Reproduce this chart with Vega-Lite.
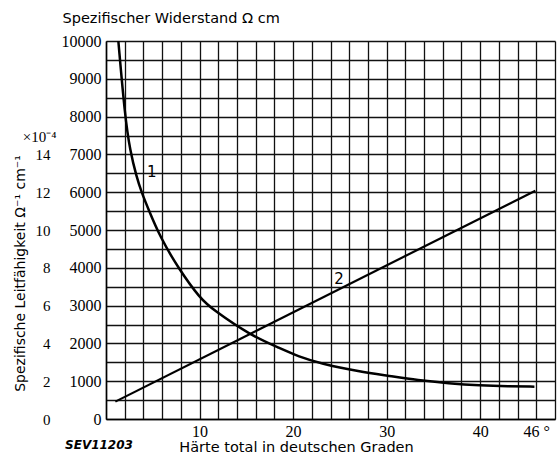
{
  "$schema": "https://vega.github.io/schema/vega-lite/v6.json",
  "width": 449,
  "height": 378,
  "autosize": {"type": "none"},
  "padding": {"left": 106, "top": 41, "right": 4, "bottom": 37},
  "background": "white",
  "config": {
    "view": {"stroke": null},
    "axis": {
      "ticks": false,
      "labelColor": "black",
      "titleColor": "black",
      "domainColor": "black",
      "domainWidth": 1.5,
      "gridColor": "#111111",
      "gridOpacity": 1,
      "gridWidth": 1.3,
      "labelOverlap": false,
      "labelFlush": false
    }
  },
  "layer": [
    {
      "layer": [
        {
          "data": {
            "values": [
              {"haerte": 1.32, "widerstand": 10000},
              {"haerte": 2.03, "widerstand": 8000},
              {"haerte": 2.57, "widerstand": 7100},
              {"haerte": 3.27, "widerstand": 6400},
              {"haerte": 3.8, "widerstand": 6000},
              {"haerte": 4.5, "widerstand": 5570},
              {"haerte": 5.77, "widerstand": 4820},
              {"haerte": 7.73, "widerstand": 3990},
              {"haerte": 10.05, "widerstand": 3190},
              {"haerte": 11.5, "widerstand": 2880},
              {"haerte": 15.4, "widerstand": 2220},
              {"haerte": 18.6, "widerstand": 1870},
              {"haerte": 20.6, "widerstand": 1650},
              {"haerte": 22.9, "widerstand": 1470},
              {"haerte": 27.2, "widerstand": 1250},
              {"haerte": 30, "widerstand": 1150},
              {"haerte": 33.4, "widerstand": 1020},
              {"haerte": 36.6, "widerstand": 945},
              {"haerte": 40, "widerstand": 890},
              {"haerte": 43, "widerstand": 865},
              {"haerte": 45.8, "widerstand": 855}
            ]
          },
          "mark": {"type": "line", "color": "black", "strokeWidth": 2.5, "interpolate": "basis"},
          "encoding": {
            "x": {
              "field": "haerte",
              "type": "quantitative",
              "scale": {"domain": [0, 48], "nice": false},
              "axis": {
                "values": [0,2,4,6,8,10,12,14,16,18,20,22,24,26,28,30,32,34,36,38,40,42,44,46,48],
                "grid": true,
                "labelExpr": "indexof([10,20,30,40], datum.value) >= 0 ? datum.label : (datum.value == 46 ? '46 °' : '')",
                "labelFont": "Liberation Serif",
                "labelFontSize": 16,
                "labelPadding": 4,
                "title": "Härte total in deutschen Graden",
                "titleFont": "DejaVu Sans",
                "titleFontSize": 14.5,
                "titleFontWeight": "normal",
                "titleX": 190,
                "titleY": 28,
                "titleAlign": "center",
                "titleBaseline": "middle"
              }
            },
            "y": {
              "field": "widerstand",
              "type": "quantitative",
              "scale": {"domain": [0, 10000], "nice": false},
              "axis": {
                "values": [0,500,1000,1500,2000,2500,3000,3500,4000,4500,5000,5500,6000,6500,7000,7500,8000,8500,9000,9500,10000],
                "grid": true,
                "format": "d",
                "labelExpr": "datum.value % 1000 == 0 ? datum.label : ''",
                "labelFont": "Liberation Serif",
                "labelFontSize": 16,
                "labelPadding": 5,
                "title": "Spezifischer Widerstand Ω cm",
                "titleFont": "DejaVu Sans",
                "titleFontSize": 14.5,
                "titleFontWeight": "normal",
                "titleAngle": 0,
                "titleAlign": "left",
                "titleBaseline": "middle",
                "titleX": -44,
                "titleY": -23
              }
            }
          }
        },
        {
          "data": {"values": [{"haerte": 4.9, "widerstand": 6530, "label": "1"}, {"haerte": 24.9, "widerstand": 3700, "label": "2"}]},
          "mark": {"type": "text", "font": "DejaVu Sans", "fontSize": 15, "color": "black", "align": "center", "baseline": "middle"},
          "encoding": {
            "x": {
              "field": "haerte",
              "type": "quantitative",
              "axis": {
                "values": [0,2,4,6,8,10,12,14,16,18,20,22,24,26,28,30,32,34,36,38,40,42,44,46,48],
                "grid": true,
                "labelExpr": "indexof([10,20,30,40], datum.value) >= 0 ? datum.label : (datum.value == 46 ? '46 °' : '')",
                "labelFont": "Liberation Serif",
                "labelFontSize": 16,
                "labelPadding": 4,
                "title": "Härte total in deutschen Graden",
                "titleFont": "DejaVu Sans",
                "titleFontSize": 14.5,
                "titleFontWeight": "normal",
                "titleX": 190,
                "titleY": 28,
                "titleAlign": "center",
                "titleBaseline": "middle"
              }
            },
            "y": {
              "field": "widerstand",
              "type": "quantitative",
              "axis": {
                "values": [0,500,1000,1500,2000,2500,3000,3500,4000,4500,5000,5500,6000,6500,7000,7500,8000,8500,9000,9500,10000],
                "grid": true,
                "format": "d",
                "labelExpr": "datum.value % 1000 == 0 ? datum.label : ''",
                "labelFont": "Liberation Serif",
                "labelFontSize": 16,
                "labelPadding": 5,
                "title": "Spezifischer Widerstand Ω cm",
                "titleFont": "DejaVu Sans",
                "titleFontSize": 14.5,
                "titleFontWeight": "normal",
                "titleAngle": 0,
                "titleAlign": "left",
                "titleBaseline": "middle",
                "titleX": -44,
                "titleY": -23
              }
            },
            "text": {"field": "label"}
          }
        },
        {
          "data": {"values": [{"haerte": -7.1, "widerstand": 7460, "label": "×10⁻⁴"}]},
          "mark": {"type": "text", "font": "Liberation Serif", "fontSize": 15, "color": "black", "align": "center", "baseline": "middle"},
          "encoding": {
            "x": {
              "field": "haerte",
              "type": "quantitative",
              "axis": {
                "values": [0,2,4,6,8,10,12,14,16,18,20,22,24,26,28,30,32,34,36,38,40,42,44,46,48],
                "grid": true,
                "labelExpr": "indexof([10,20,30,40], datum.value) >= 0 ? datum.label : (datum.value == 46 ? '46 °' : '')",
                "labelFont": "Liberation Serif",
                "labelFontSize": 16,
                "labelPadding": 4,
                "title": "Härte total in deutschen Graden",
                "titleFont": "DejaVu Sans",
                "titleFontSize": 14.5,
                "titleFontWeight": "normal",
                "titleX": 190,
                "titleY": 28,
                "titleAlign": "center",
                "titleBaseline": "middle"
              }
            },
            "y": {
              "field": "widerstand",
              "type": "quantitative",
              "axis": {
                "values": [0,500,1000,1500,2000,2500,3000,3500,4000,4500,5000,5500,6000,6500,7000,7500,8000,8500,9000,9500,10000],
                "grid": true,
                "format": "d",
                "labelExpr": "datum.value % 1000 == 0 ? datum.label : ''",
                "labelFont": "Liberation Serif",
                "labelFontSize": 16,
                "labelPadding": 5,
                "title": "Spezifischer Widerstand Ω cm",
                "titleFont": "DejaVu Sans",
                "titleFontSize": 14.5,
                "titleFontWeight": "normal",
                "titleAngle": 0,
                "titleAlign": "left",
                "titleBaseline": "middle",
                "titleX": -44,
                "titleY": -23
              }
            },
            "text": {"field": "label"}
          }
        },
        {
          "data": {"values": [{"haerte": -0.75, "widerstand": -690, "label": "SEV11203"}]},
          "mark": {"type": "text", "font": "DejaVu Sans", "fontSize": 12, "fontWeight": "bold", "fontStyle": "italic", "color": "black", "align": "center", "baseline": "middle"},
          "encoding": {
            "x": {
              "field": "haerte",
              "type": "quantitative",
              "axis": {
                "values": [0,2,4,6,8,10,12,14,16,18,20,22,24,26,28,30,32,34,36,38,40,42,44,46,48],
                "grid": true,
                "labelExpr": "indexof([10,20,30,40], datum.value) >= 0 ? datum.label : (datum.value == 46 ? '46 °' : '')",
                "labelFont": "Liberation Serif",
                "labelFontSize": 16,
                "labelPadding": 4,
                "title": "Härte total in deutschen Graden",
                "titleFont": "DejaVu Sans",
                "titleFontSize": 14.5,
                "titleFontWeight": "normal",
                "titleX": 190,
                "titleY": 28,
                "titleAlign": "center",
                "titleBaseline": "middle"
              }
            },
            "y": {
              "field": "widerstand",
              "type": "quantitative",
              "axis": {
                "values": [0,500,1000,1500,2000,2500,3000,3500,4000,4500,5000,5500,6000,6500,7000,7500,8000,8500,9000,9500,10000],
                "grid": true,
                "format": "d",
                "labelExpr": "datum.value % 1000 == 0 ? datum.label : ''",
                "labelFont": "Liberation Serif",
                "labelFontSize": 16,
                "labelPadding": 5,
                "title": "Spezifischer Widerstand Ω cm",
                "titleFont": "DejaVu Sans",
                "titleFontSize": 14.5,
                "titleFontWeight": "normal",
                "titleAngle": 0,
                "titleAlign": "left",
                "titleBaseline": "middle",
                "titleX": -44,
                "titleY": -23
              }
            },
            "text": {"field": "label"}
          }
        }
      ]
    },
    {
      "data": {"values": [{"haerte": 1.0, "leitfaehigkeit": 0.92}, {"haerte": 45.9, "leitfaehigkeit": 12.08}]},
      "mark": {"type": "line", "color": "black", "strokeWidth": 2.2},
      "encoding": {
        "x": {
          "field": "haerte",
          "type": "quantitative",
          "axis": {
            "values": [0,2,4,6,8,10,12,14,16,18,20,22,24,26,28,30,32,34,36,38,40,42,44,46,48],
            "grid": true,
            "labelExpr": "indexof([10,20,30,40], datum.value) >= 0 ? datum.label : (datum.value == 46 ? '46 °' : '')",
            "labelFont": "Liberation Serif",
            "labelFontSize": 16,
            "labelPadding": 4,
            "title": "Härte total in deutschen Graden",
            "titleFont": "DejaVu Sans",
            "titleFontSize": 14.5,
            "titleFontWeight": "normal",
            "titleX": 190,
            "titleY": 28,
            "titleAlign": "center",
            "titleBaseline": "middle"
          }
        },
        "y": {
          "field": "leitfaehigkeit",
          "type": "quantitative",
          "scale": {"domain": [0, 20], "nice": false},
          "axis": {
            "orient": "left",
            "offset": 52,
            "values": [0, 2, 4, 6, 8, 10, 12, 14],
            "grid": false,
            "domain": false,
            "labelFont": "Liberation Serif",
            "labelFontSize": 15,
            "labelPadding": 4,
            "title": "Spezifische Leitfähigkeit Ω⁻¹ cm⁻¹",
            "titleFont": "DejaVu Sans",
            "titleFontSize": 14,
            "titleFontWeight": "normal",
            "titleAngle": -90,
            "titleAlign": "center",
            "titleBaseline": "middle",
            "titleX": -34,
            "titleY": 232
          }
        }
      }
    }
  ],
  "resolve": {"scale": {"y": "independent"}}
}
